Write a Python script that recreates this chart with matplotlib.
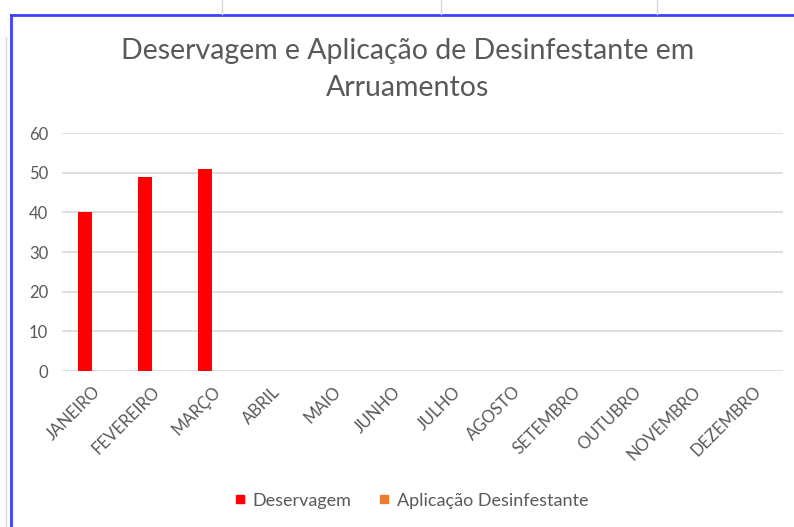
import numpy as np
import matplotlib.pyplot as plt
from matplotlib.lines import Line2D

meses = ["JANEIRO", "FEVEREIRO", "MARÇO", "ABRIL", "MAIO", "JUNHO", "JULHO",
         "AGOSTO", "SETEMBRO", "OUTUBRO", "NOVEMBRO", "DEZEMBRO"]
deservagem = [40, 49, 51, None, None, None, None, None, None, None, None, None]
desinfestante = [None] * 12
yticks = [0, 10, 20, 30, 40, 50, 60]

titulo = "Deservagem e Aplicação de Desinfestante em\nArruamentos"
cinza = "#595959"

plt.rcParams['font.family'] = ['Lato', 'DejaVu Sans']

fig = plt.figure(figsize=(7.94, 5.27), dpi=100)
ax = fig.add_axes([0.078, 0.296, 0.908, 0.4516])

x = np.arange(len(meses))
w = 0.23
y1 = np.array([np.nan if v is None else v for v in deservagem], dtype=float)
y2 = np.array([np.nan if v is None else v for v in desinfestante], dtype=float)
ax.bar(x - w / 2, y1, w, color="#FF0000", label="Deservagem", zorder=3)
ax.bar(x + w / 2, y2, w, color="#ED7D31", label="Aplicação Desinfestante", zorder=3)

ax.set_xlim(-0.5, len(meses) - 0.5)
ax.set_ylim(0, 60)
ax.set_yticks(yticks)
ax.yaxis.grid(True, color="#D9D9D9", linewidth=1.2, zorder=0)
for s in ax.spines.values():
    s.set_visible(False)
ax.tick_params(axis="both", length=0, colors=cinza, labelsize=12)
ax.tick_params(axis="y", pad=10)
ax.set_xticks(x)
ax.set_xticklabels(meses, rotation=45, ha="right", rotation_mode="anchor")
ax.tick_params(axis="x", pad=9)

fig.text(0.513, 0.868, titulo, ha="center", va="center", fontsize=20.5,
         color=cinza, linespacing=1.5)

handles = [Line2D([], [], marker="s", linestyle="", color="#FF0000", markersize=6),
           Line2D([], [], marker="s", linestyle="", color="#ED7D31", markersize=6)]
fig.legend(handles, ["Deservagem", "Aplicação Desinfestante"], loc="center",
           bbox_to_anchor=(0.510, 0.05), ncol=2, frameon=False, fontsize=13,
           labelcolor=cinza, handletextpad=-0.3, columnspacing=0.8)

# moldura da captura
fig.add_artist(Line2D([0.014, 0.014], [0, 0.972], color="#4040FF", linewidth=2))
fig.add_artist(Line2D([0.014, 1.0], [0.972, 0.972], color="#4040FF", linewidth=2))
fig.add_artist(Line2D([0.008, 0.008], [0, 0.93], color="#D8D8D8", linewidth=1))
for xv in [0.28, 0.555, 0.828]:
    fig.add_artist(Line2D([xv, xv], [0.974, 1.0], color="#D8D8D8", linewidth=1))

fig.savefig("out.png", dpi=100)
